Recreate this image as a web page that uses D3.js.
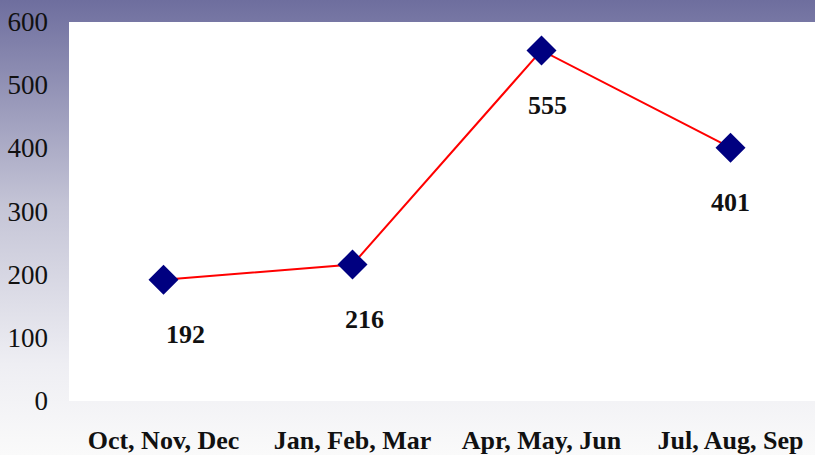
<!DOCTYPE html>
<html>
<head>
<meta charset="utf-8">
<script src="https://cdn.jsdelivr.net/npm/d3@7"></script>
<style>
  body { margin: 0; padding: 0; overflow: hidden; }
  svg { display: block; }
</style>
</head>
<body>
<svg id="drawing_region"></svg>
<script>
const categories = ["Oct, Nov, Dec", "Jan, Feb, Mar", "Apr, May, Jun", "Jul, Aug, Sep"];
const values = [192, 216, 555, 401];
const yTicks = [0, 100, 200, 300, 400, 500, 600];
// label nudges (px) as placed in the original
const labelDx = [22, 12, 6, 0];

const config = {
    width: 815,
    height: 455,
    margin: {top: 22, right: -10, bottom: 54, left: 69}
};

const svg = d3.select('#drawing_region')
    .attr('width', config.width)
    .attr('height', config.height);

const defs = svg.append('defs');
const grad = defs.append('linearGradient')
    .attr('id', 'bg').attr('x1', 0).attr('y1', 0).attr('x2', 0).attr('y2', 1);
grad.append('stop').attr('offset', '0%').attr('stop-color', '#6e6e9e');
grad.append('stop').attr('offset', '45%').attr('stop-color', '#c4c4d6');
grad.append('stop').attr('offset', '80%').attr('stop-color', '#eeeef3');
grad.append('stop').attr('offset', '100%').attr('stop-color', '#fafafa');

svg.append('rect')
    .attr('width', config.width).attr('height', config.height)
    .attr('fill', 'url(#bg)');

const innerW = config.width - config.margin.left - config.margin.right;
const innerH = config.height - config.margin.top - config.margin.bottom;

const chart = svg.append('g')
    .attr('transform', `translate(${config.margin.left}, ${config.margin.top})`);

chart.append('rect')
    .attr('width', innerW).attr('height', innerH)
    .attr('fill', '#ffffff');

const x = d3.scaleBand().domain(categories).range([0, innerW]);
const y = d3.scaleLinear().domain([0, 600]).range([innerH, 0]);

// y tick labels
const yAxis = chart.append('g')
    .call(d3.axisLeft(y).tickValues(yTicks).tickSize(0).tickPadding(21));
yAxis.select('.domain').remove();
yAxis.selectAll('text')
    .attr('font-family', '"Liberation Serif", "DejaVu Serif", serif')
    .attr('font-size', 27)
    .attr('fill', '#111');

// x category labels
const xAxis = chart.append('g')
    .attr('transform', `translate(0, ${innerH})`)
    .call(d3.axisBottom(x).tickSize(0).tickPadding(30));
xAxis.select('.domain').remove();
xAxis.selectAll('text')
    .attr('font-family', '"Liberation Serif", "DejaVu Serif", serif')
    .attr('font-size', 26)
    .attr('font-weight', 'bold')
    .attr('fill', '#111');

const cx = d => x(d) + x.bandwidth() / 2;

const line = d3.line()
    .x((d, i) => cx(categories[i]))
    .y(d => y(d));

chart.append('path')
    .datum(values)
    .attr('d', line)
    .attr('fill', 'none')
    .attr('stroke', '#ff0000')
    .attr('stroke-width', 2);

const sym = d3.symbol().type(d3.symbolSquare).size(450);
chart.selectAll('path.marker')
    .data(values)
    .enter()
    .append('path')
    .attr('class', 'marker')
    .attr('d', sym)
    .attr('transform', (d, i) => `translate(${cx(categories[i])}, ${y(d)}) rotate(45)`)
    .attr('fill', '#000080');

chart.selectAll('text.val')
    .data(values)
    .enter()
    .append('text')
    .attr('class', 'val')
    .attr('x', (d, i) => cx(categories[i]) + labelDx[i])
    .attr('y', d => y(d) + 54)
    .attr('dy', '0.35em')
    .attr('text-anchor', 'middle')
    .attr('font-family', '"Liberation Serif", "DejaVu Serif", serif')
    .attr('font-size', 26)
    .attr('font-weight', 'bold')
    .attr('fill', '#111')
    .text(d => d);
</script>
</body>
</html>
